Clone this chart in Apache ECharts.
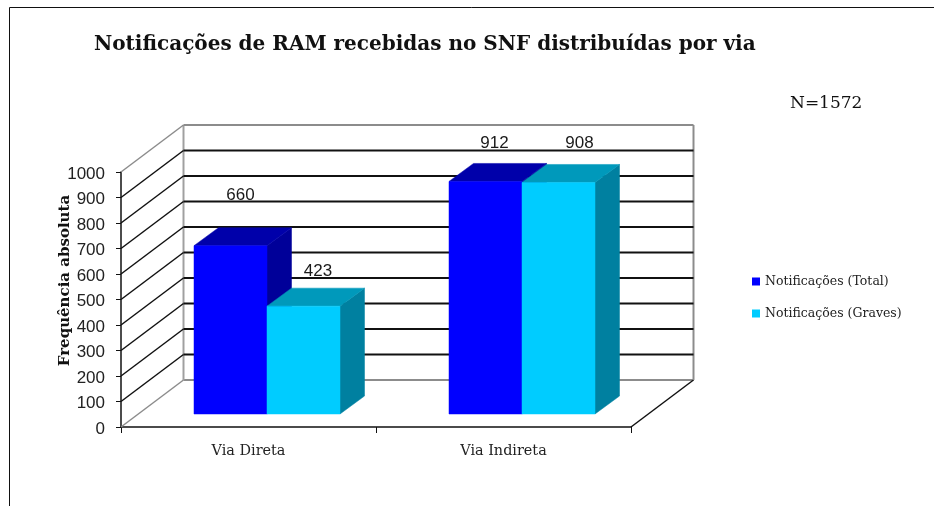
<!DOCTYPE html>
<html>
<head>
<meta charset="utf-8">
<title>Notificações de RAM</title>
<script src="https://cdn.jsdelivr.net/npm/echarts@6/dist/echarts.min.js"></script>
<style>
  html, body { margin: 0; padding: 0; background: #fff; }
  #main { width: 934px; height: 506px; }
</style>
</head>
<body>
<div id="main"></div>
<script>
// dados
var vias = ['Via Direta', 'Via Indireta'];
var total = [660, 912];
var graves = [423, 908];
var nomeTotal = 'Notificações (Total)';
var nomeGraves = 'Notificações (Graves)';
var marcasY = [0, 100, 200, 300, 400, 500, 600, 700, 800, 900, 1000];

// falso 3D: deslocamentos em pixels
var fundoX = 62.5, fundoY = -47;     // profundidade da caixa
var frenteX = 18.5, frenteY = -13;   // plano da frente das barras
var barraX = 24.5, barraY = -18;     // profundidade das barras
var larguraBarra = 73;

var serifa = '"DejaVu Serif", serif';
var sans = '"Liberation Sans", Arial, sans-serif';

function poly(pts, cor) {
  return { type: 'polygon', shape: { points: pts }, style: { fill: cor, stroke: cor, lineWidth: 0.5 } };
}

function linha(x1, y1, x2, y2, cor, esp) {
  return { type: 'line', shape: { x1: x1, y1: y1, x2: x2, y2: y2 }, style: { stroke: cor, lineWidth: esp } };
}

// paredes e linhas de grade
function desenhaGrade(params, api) {
  var v = api.value(0);
  var ini = api.coord([0, v]);
  var band = api.size([1, 0])[0];
  var x0 = ini[0] - band / 2;
  var y0 = ini[1];
  var x1 = x0 + fundoX;
  var y1 = y0 + fundoY;
  var x2 = x1 + band * vias.length;
  var extremo = v === 0 || v === 1000;
  var cor = extremo ? '#8c8c8c' : '#111';
  var filhos = [
    linha(x0, y0, x1, y1, cor, 1.5),
    linha(x1, y1, x2, y1, cor, 2)
  ];
  if (v === 0) {
    // chao, lado direito
    filhos.push(linha(x2 - fundoX, y0, x2, y1, '#111', 1.5));
    var topo = api.coord([0, 1000])[1] + fundoY;
    filhos.push(linha(x1, y1, x1, topo, '#a0a0a0', 2));
    filhos.push(linha(x2, y1, x2, topo, '#8c8c8c', 2));
  }
  return { type: 'group', children: filhos };
}

// cada serie desenha frente, topo e lado
function fazBarra(ordem, corFrente, corTopo, corLado, ajusteRotulo) {
  return function (params, api) {
    var cat = api.value(0);
    var val = api.value(1);
    var base = api.coord([cat, 0]);
    var alto = api.coord([cat, val]);
    var xa = base[0] + frenteX + (ordem - 1) * larguraBarra;
    var xb = xa + larguraBarra;
    var yb = base[1] + frenteY;
    var yt = alto[1] + frenteY;
    var aj = ajusteRotulo[params.dataIndex];
    return {
      type: 'group',
      children: [
        poly([[xb, yb], [xb + barraX, yb + barraY], [xb + barraX, yt + barraY], [xb, yt]], corLado),
        poly([[xa, yt], [xa + barraX, yt + barraY], [xb + barraX, yt + barraY], [xb, yt]], corTopo),
        poly([[xa, yb], [xa, yt], [xb, yt], [xb, yb]], corFrente),
        {
          type: 'text',
          z2: 10,
          style: {
            x: (xa + xb) / 2 + aj[0],
            y: yt + aj[1],
            text: String(val),
            font: '17px ' + sans,
            fill: '#1a1a1a',
            align: 'center',
            verticalAlign: 'middle'
          }
        }
      ]
    };
  };
}

var chart = echarts.init(document.getElementById('main'), null, { renderer: 'canvas' });

chart.setOption({
  backgroundColor: '#fff',
  animation: false,
  title: {
    text: 'Notificações de RAM recebidas no SNF distribuídas por via',
    left: 89,
    top: 30,
    textStyle: { fontFamily: serifa, fontWeight: 'bold', fontSize: 20, color: '#111' }
  },
  legend: {
    orient: 'vertical',
    left: 747,
    top: 270,
    itemWidth: 8,
    itemHeight: 8,
    itemGap: 19,
    data: [
      { name: nomeTotal, icon: 'rect', itemStyle: { color: '#0000ff' } },
      { name: nomeGraves, icon: 'rect', itemStyle: { color: '#00ccff' } }
    ],
    textStyle: { fontFamily: serifa, fontSize: 12.5, color: '#222', padding: [0, 0, 0, 0] }
  },
  grid: { left: 121, top: 172, width: 510, height: 255 },
  xAxis: {
    type: 'category',
    data: vias,
    axisLine: { lineStyle: { color: '#111', width: 1.5 } },
    axisTick: { show: true, length: 6, lineStyle: { color: '#111' } },
    axisLabel: { fontFamily: serifa, fontSize: 14.4, color: '#222', margin: 17 }
  },
  yAxis: {
    type: 'value',
    min: 0,
    max: 1000,
    interval: 100,
    name: 'Frequência absoluta',
    nameLocation: 'middle',
    nameGap: 48,
    nameMoveOverlap: false,
    nameTextStyle: { fontFamily: serifa, fontWeight: 'bold', fontSize: 15, color: '#111', padding: [0, 0, 0, 38] },
    splitLine: { show: false },
    axisLine: { show: true, lineStyle: { color: '#111', width: 1.5 } },
    axisTick: { show: true, length: 5, lineStyle: { color: '#111' } },
    axisLabel: {
      margin: 16,
      formatter: function (v) { return '{n|' + v + '}'; },
      rich: { n: { fontFamily: sans, fontSize: 17, color: '#222', padding: [4, 0, 0, 0] } }
    }
  },
  series: [
    {
      type: 'custom',
      name: 'grade',
      silent: true,
      z: 1,
      renderItem: desenhaGrade,
      encode: { x: 1, y: 0 },
      data: marcasY.map(function (v) { return [v, 0]; })
    },
    {
      type: 'custom',
      name: nomeTotal,
      z: 2,
      renderItem: fazBarra(0, '#0000ff', '#0000aa', '#000099', [[10, -50], [9, -38]]),
      encode: { x: 0, y: 1 },
      data: total.map(function (v, i) { return [i, v]; })
    },
    {
      type: 'custom',
      name: nomeGraves,
      z: 3,
      renderItem: fazBarra(1, '#00ccff', '#0099bb', '#0080a0', [[14.5, -35], [21, -39]]),
      encode: { x: 0, y: 1 },
      data: graves.map(function (v, i) { return [i, v]; })
    }
  ],
  graphic: [
    { type: 'line', shape: { x1: 9.5, y1: 7.5, x2: 934, y2: 7.5 }, style: { stroke: '#111', lineWidth: 1 } },
    { type: 'line', shape: { x1: 9.5, y1: 7.5, x2: 9.5, y2: 506 }, style: { stroke: '#111', lineWidth: 1 } },
    {
      type: 'text',
      left: 790,
      top: 95,
      style: { text: 'N=1572', font: '17px ' + serifa, fill: '#111' }
    }
  ]
});
</script>
</body>
</html>
